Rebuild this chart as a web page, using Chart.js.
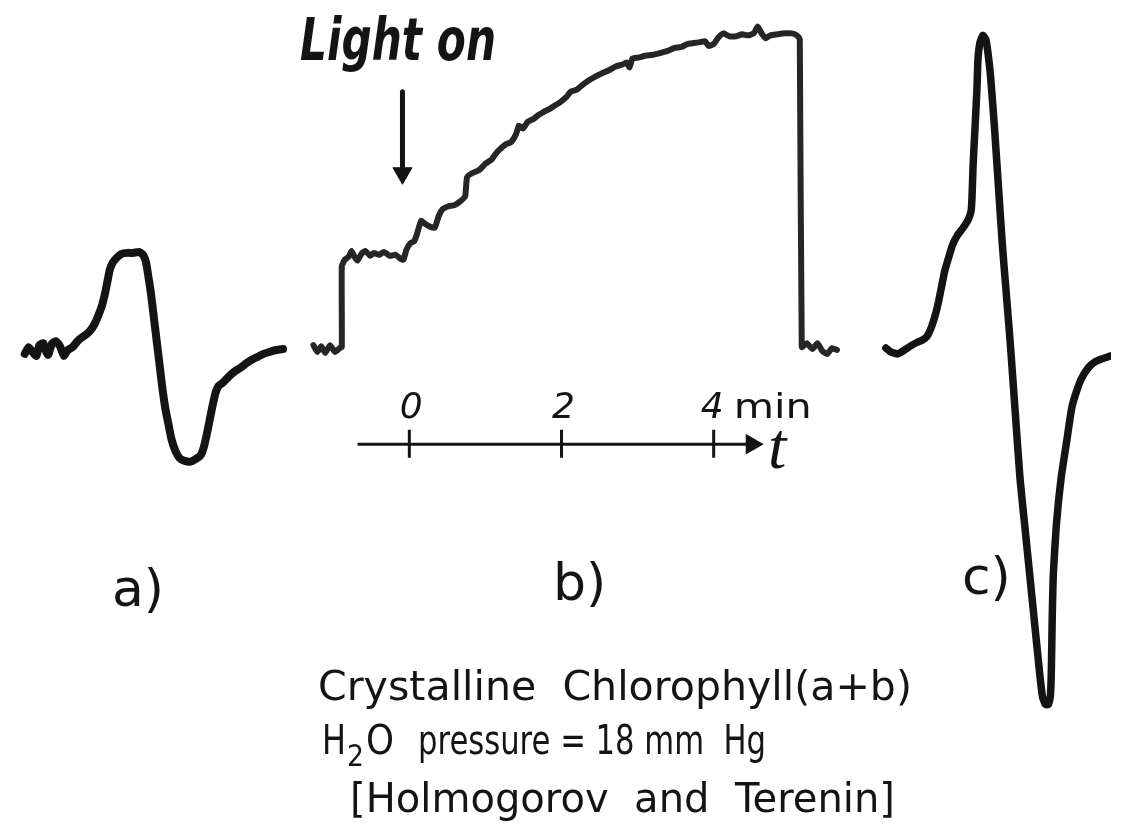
<!DOCTYPE html>
<html>
<head>
<meta charset="utf-8">
<script src="https://cdn.jsdelivr.net/npm/chart.js@4.4.1/dist/chart.umd.min.js"></script>
<style>
	html, body { margin: 0; padding: 0; background: #fff; }
	canvas { display: block; }
</style>
</head>
<body>
<canvas id="figure" width="1123" height="836"></canvas>
<script>
// recorder traces: [x, y] in page units (y grows downward)
const trace_a = [
	[13,352],[17,345],[21,350],[25,354],[28,343],[32,341],[35,350],[37,353],[41,341],[45,339],
	[49,344],[53,354],[57,348],[62,345],[66,340],[70,336],[76,332],[80,328],[84,322],[88,313],
	[92,302],[95,290],[98,275],[100,265],[103,258],[107,253],[112,249],[118,248],[124,248],[130,247],
	[134,250],[137,258],[139,270],[142,290],[145,315],[148,340],[151,365],[154,390],[157,410],[160,425],
	[163,440],[167,452],[171,459],[176,462],[182,463],[188,460],[193,456],[196,448],[199,435],[202,420],
	[205,405],[208,392],[211,385],[215,382],[219,378],[224,373],[229,369],[234,366],[239,362],[245,358],
	[251,355],[257,352],[263,350],[270,348],[277,347]
];
const trace_b = [
	[308,343],[312,350],[316,344],[320,351],[325,343],[330,350],[335,346],[337,345],[337,262],[340,255],
	[344,252],[347,246],[350,252],[353,256],[357,249],[361,246],[366,251],[370,248],[375,250],[380,247],
	[386,251],[392,250],[397,254],[400,255],[403,245],[407,238],[411,236],[414,228],[418,215],[422,218],
	[427,221],[432,222],[436,210],[440,203],[446,200],[452,199],[458,195],[463,190],[465,170],[470,166],
	[477,163],[484,156],[490,152],[495,145],[500,140],[505,136],[510,134],[515,126],[518,117],[522,120],
	[527,113],[533,110],[538,106],[543,103],[549,100],[555,96],[560,93],[566,88],[571,82],[577,80],
	[583,75],[590,70],[597,66],[603,63],[610,60],[617,56],[624,54],[628,52],[631,57],[634,48],
	[640,47],[647,45],[655,44],[663,42],[670,40],[677,37],[684,36],[690,33],[697,32],[703,31],
	[708,30],[712,35],[717,33],[722,26],[727,22],[733,25],[740,25],[746,23],[752,24],[758,22],
	[762,15],[766,22],[770,27],[775,24],[782,23],[790,22],[797,22],[802,24],[805,28],[807,345],
	[812,341],[818,347],[823,341],[828,349],[833,352],[838,346],[843,348]
];
const trace_c = [
	[893,346],[898,350],[905,352],[912,348],[918,344],[925,340],[930,338],[935,334],[940,323],[944,310],
	[947,297],[950,282],[953,267],[957,253],[961,240],[966,230],[972,222],[977,214],[980,205],[981,190],
	[982,160],[984,120],[986,80],[987,50],[989,32],[992,24],[995,28],[997,40],[1000,67],[1004,120],
	[1008,180],[1012,240],[1016,290],[1020,340],[1025,410],[1030,480],[1035,530],[1040,580],[1045,630],[1050,680],
	[1053,705],[1056,713],[1059,713],[1061,705],[1062,680],[1063,620],[1064,580],[1067,530],[1072,480],[1078,440],
	[1083,407],[1088,390],[1093,377],[1100,366],[1107,360],[1114,357],[1120,355],[1123,354]
];

// time axis drawn under trace b (minutes)
const time_ticks = [0, 2, 4];
const time_tick_labels = ["0", "2", "4 min"];
const time_axis_span = [-0.68, 4.5];

// "Light on" marker
const light_on_arrow = [[399, 82], [399, 166]];

const ink = "#141414";
const toXY = (pts) => pts.map((p) => ({ x: p[0], y: p[1] }));

const traceStyle = (width, color) => ({
	showLine: true,
	borderColor: color || ink,
	borderWidth: width,
	borderCapStyle: "round",
	borderJoinStyle: "round",
	pointRadius: 0,
	tension: 0.15,
	xAxisID: "x",
});

const datasets = [
	{ label: "a", data: toXY(trace_a), ...traceStyle(8) },
	{ label: "b", data: toXY(trace_b), ...traceStyle(6, "#262626") },
	{ label: "c", data: toXY(trace_c), ...traceStyle(7.5) },
	{
		label: "light on",
		data: toXY(light_on_arrow),
		...traceStyle(5),
		tension: 0,
		pointRadius: [0, 11],
		pointStyle: "triangle",
		rotation: 180,
		pointBackgroundColor: ink,
		pointBorderColor: ink,
		pointBorderWidth: 1,
	},
	{
		label: "time axis",
		data: time_axis_span.map((t) => ({ x: t, y: 445 })),
		showLine: true,
		borderColor: ink,
		borderWidth: 3,
		pointRadius: [0, 9],
		pointStyle: "triangle",
		rotation: 90,
		pointBackgroundColor: ink,
		pointBorderColor: ink,
		xAxisID: "xt",
	},
];
time_ticks.forEach((t) => {
	datasets.push({
		label: "tick " + t,
		data: [{ x: t, y: 430 }, { x: t, y: 459 }],
		showLine: true,
		borderColor: ink,
		borderWidth: 3,
		pointRadius: 0,
		xAxisID: "xt",
	});
});

// lettering on the figure
const fitText = (ctx, str, x0, x1, yBase, font) => {
	ctx.font = font;
	const w = ctx.measureText(str).width;
	ctx.save();
	ctx.translate(x0, yBase);
	ctx.scale((x1 - x0) / w, 1);
	ctx.fillText(str, 0, 0);
	ctx.restore();
};

const lettering = {
	id: "lettering",
	afterDatasetsDraw(chart) {
		const ctx = chart.ctx;
		const xt = chart.scales.xt;
		ctx.save();
		ctx.fillStyle = ink;
		ctx.textBaseline = "alphabetic";

		fitText(ctx, "Light on", 300, 496, 60, "bold italic 58px 'DejaVu Sans'");

		// time tick labels
		ctx.font = "italic 36px 'DejaVu Sans'";
		ctx.textAlign = "center";
		time_tick_labels.forEach((s, i) => {
			const px = xt.getPixelForValue(time_ticks[i]);
			if (i === time_ticks.length - 1) {
				ctx.textAlign = "left";
				ctx.fillText("4", px - 13, 418);
				fitText(ctx, "min", px + 20, px + 98, 418, "34px 'DejaVu Sans'");
			} else {
				ctx.fillText(s, px + 2, 418);
			}
		});
		ctx.textAlign = "left";
		ctx.font = "italic 66px 'Liberation Serif'";
		ctx.fillText("t", 768, 468);

		// panel labels
		ctx.font = "52px 'DejaVu Sans'";
		ctx.fillText("a)", 112, 606);
		ctx.fillText("b)", 553, 600);
		ctx.fillText("c)", 962, 594);

		// caption
		const cap = "40px 'DejaVu Sans'";
		fitText(ctx, "Crystalline  Chlorophyll(a+b)", 318, 912, 700, cap);
		fitText(ctx, "H", 322, 346, 754, cap);
		fitText(ctx, "2", 347, 364, 766, "30px 'DejaVu Sans'");
		fitText(ctx, "O", 366, 394, 754, cap);
		fitText(ctx, "pressure = 18 mm  Hg", 418, 766, 754, cap);
		fitText(ctx, "[Holmogorov  and  Terenin]", 350, 895, 812, cap);
		ctx.restore();
	},
};

new Chart(document.getElementById("figure").getContext("2d"), {
	type: "scatter",
	data: { datasets },
	options: {
		responsive: false,
		animation: false,
		layout: { padding: 0 },
		plugins: { legend: { display: false }, tooltip: { enabled: false } },
		scales: {
			x: { type: "linear", min: 0, max: 1123, display: false },
			xt: { type: "linear", axis: "x", min: -5.222, max: 9.222, display: false },
			y: { type: "linear", min: 0, max: 836, reverse: true, display: false },
		},
	},
	plugins: [lettering],
});
</script>
</body>
</html>
